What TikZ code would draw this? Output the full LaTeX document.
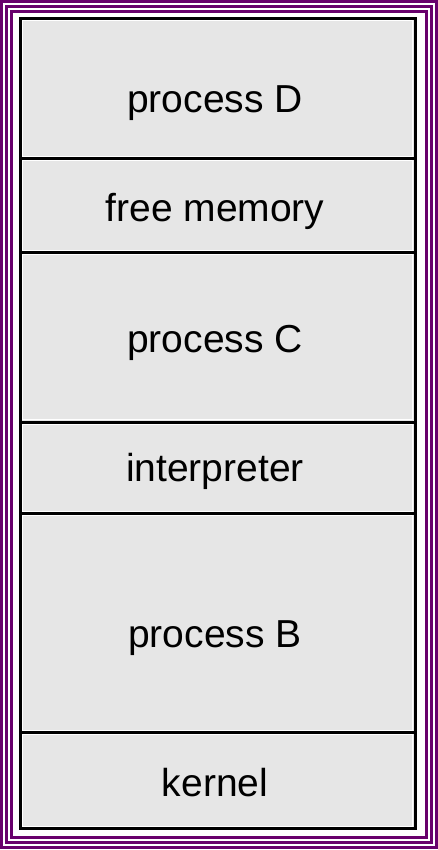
\documentclass[tikz,border=0pt]{standalone}
\usepackage{fontspec}
\setmainfont{Liberation Sans}
\definecolor{frame}{RGB}{104,0,108}
\definecolor{cellgray}{RGB}{230,230,230}
\tikzset{
  frameline/.style={draw=frame, line width=3pt},
  cellbox/.style={fill=cellgray, draw=none},
  highlight/.style={draw=white, line width=0.9pt},
  divider/.style={draw=black, line width=3pt},
  label/.style={anchor=base, font=\fontsize{39}{42}\selectfont, inner sep=0pt}
}
\begin{document}
\begin{tikzpicture}[x=1pt,y=-1pt]
\useasboundingbox (0,0) rectangle (438,850);
\fill[white] (0,0) rectangle (438,850);
% purple frame
\draw[frameline] (1.5,1.5) rectangle (436,847);
\draw[frameline] (6.6,6.6) rectangle (431,842);
\draw[frameline] (11.5,11.5) rectangle (426,837);
% cells
\foreach \a/\b in {18.5/158.5, 158.5/252.5, 252.5/422, 422/513.5, 513.5/732.5, 732.5/828.5}{
  \fill[cellbox] (20.5,\a) rectangle (415,\b);
  \draw[highlight] (22.8,\a+2.3) rectangle (412.7,\b-2.3);
}
% outer black box and dividers
\draw[divider] (20.5,18.5) rectangle (415,828.5);
\foreach \y in {158.5,252.5,422,513.5,732.5}{
  \draw[divider] (20.5,\y) -- (415,\y);
}
% labels
\node[label] (pD) at (215,112.3) {process D};
\node[label] (free) at (215,221.7) {free memory};
\node[label] (pC) at (215,352.3) {process C};
\node[label] (interp) at (215,481.7) {interpreter};
\node[label] (pB) at (215,647.3) {process B};
\node[label] (kern) at (215,796.7) {kernel};
\end{tikzpicture}
\end{document}
